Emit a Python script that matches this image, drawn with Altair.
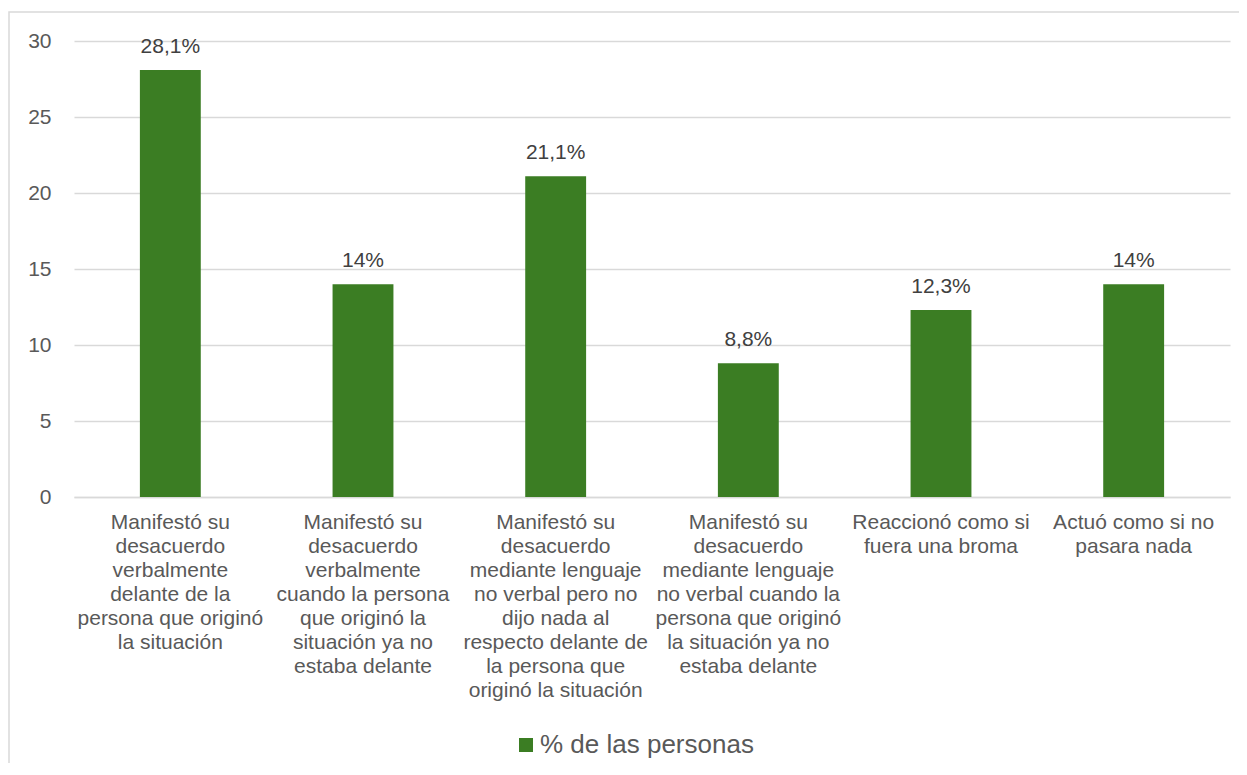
import altair as alt
import pandas as pd

categories = [
    "Manifestó su|desacuerdo|verbalmente|delante de la|persona que originó|la situación",
    "Manifestó su|desacuerdo|verbalmente|cuando la persona|que originó la|situación ya no|estaba delante",
    "Manifestó su|desacuerdo|mediante lenguaje|no verbal pero no|dijo nada al|respecto delante de|la persona que|originó la situación",
    "Manifestó su|desacuerdo|mediante lenguaje|no verbal cuando la|persona que originó|la situación ya no|estaba delante",
    "Reaccionó como si|fuera una broma",
    "Actuó como si no|pasara nada",
]
values = [28.1, 14, 21.1, 8.8, 12.3, 14]
value_labels = ["28,1%", "14%", "21,1%", "8,8%", "12,3%", "14%"]
series_name = "% de las personas"
y_ticks = [0, 5, 10, 15, 20, 25, 30]

df = pd.DataFrame({
    "cat": categories,
    "val": values,
    "lbl": value_labels,
    "serie": [series_name] * len(categories),
})

GREEN = "#3B7D23"
FONT = "Liberation Sans"

x_enc = alt.X(
    "cat:N",
    sort=categories,
    title=None,
    scale=alt.Scale(paddingInner=0.684, paddingOuter=0.342),
    axis=alt.Axis(
        labelExpr="split(datum.label, '|')",
        labelAngle=0,
        labelFontSize=21,
        labelFont=FONT,
        labelColor="#595959",
        labelLineHeight=24,
        labelBaseline="top",
        labelPadding=14,
        labelLimit=300,
        labelOverlap=False,
        ticks=False,
        domain=True,
        domainColor="#d9d9d9",
        domainWidth=1.5,
        grid=False,
    ),
)

y_enc = alt.Y(
    "val:Q",
    title=None,
    scale=alt.Scale(domain=[0, 30], nice=False),
    axis=alt.Axis(
        values=y_ticks,
        labelFontSize=21,
        labelFont=FONT,
        labelColor="#595959",
        labelPadding=23,
        ticks=False,
        domain=False,
        grid=True,
        gridColor="#d9d9d9",
        gridWidth=1.5,
    ),
)

bars = alt.Chart(df).mark_bar(color=GREEN).encode(
    x=x_enc,
    y=y_enc,
    color=alt.Color(
        "serie:N",
        scale=alt.Scale(range=[GREEN]),
        legend=alt.Legend(
            title=None,
            orient="none",
            legendX=439,
            legendY=691,
            symbolType="square",
            symbolSize=196,
            symbolStrokeWidth=0,
            symbolOpacity=1,
            labelFontSize=26,
            labelFont=FONT,
            labelColor="#595959",
            labelOffset=1,
            labelLimit=400,
        ),
    ),
)

text = alt.Chart(df).mark_text(
    baseline="alphabetic",
    dy=-17,
    fontSize=21,
    font=FONT,
    color="#404040",
).encode(
    x=alt.X("cat:N", sort=categories),
    y="val:Q",
    text="lbl:N",
)

border = alt.Chart(pd.DataFrame({"b": [0]})).mark_rect(
    fill=None, stroke="#d9d9d9", strokeWidth=1.5, clip=False
).encode(
    x=alt.value(-65),
    x2=alt.value(1300),
    y=alt.value(-29),
    y2=alt.value(400 + 456),
)

chart = alt.layer(border, bars, text).properties(
    width=1156,
    height=456,
    autosize=alt.AutoSizeParams(type="none"),
    padding={"left": 66, "top": 33, "right": 9, "bottom": 266},
).configure_view(stroke=None)

chart.save("out.html", embed_options={"renderer": "svg", "actions": False})
